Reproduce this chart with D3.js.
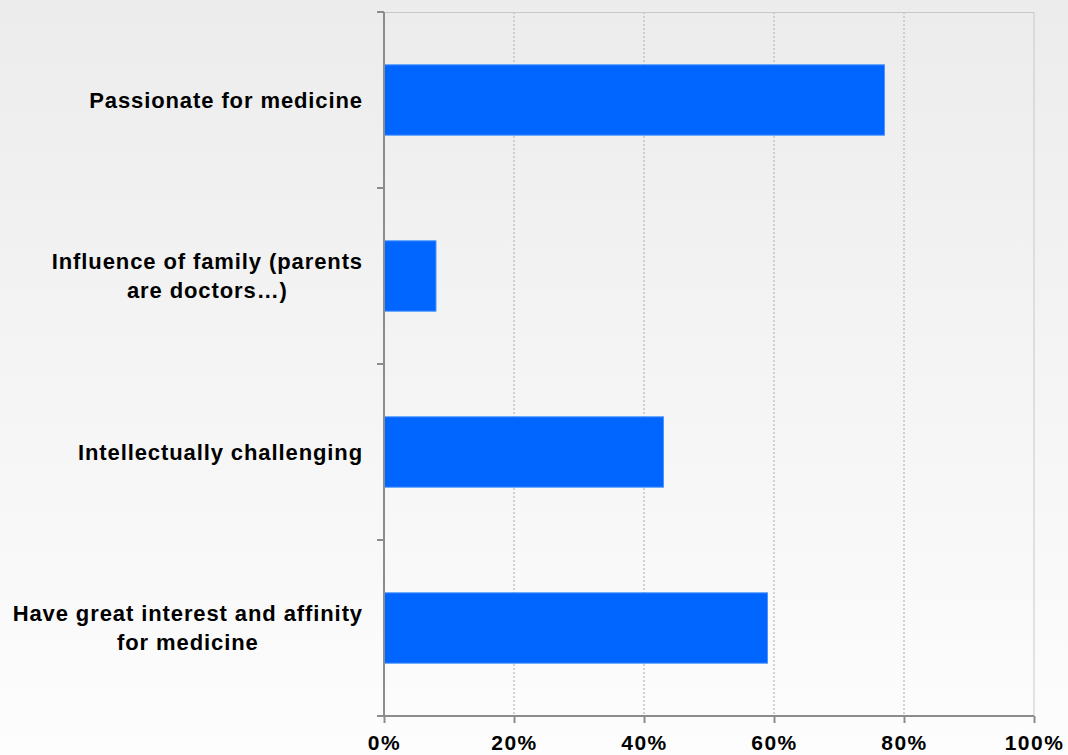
<!DOCTYPE html>
<html>
<head>
<meta charset="utf-8">
<script src="https://cdn.jsdelivr.net/npm/d3@7"></script>
<style>
  body { margin: 0; overflow: hidden; }
  svg { display: block; }
  svg text { font-family: "Liberation Sans", Arial, sans-serif; font-weight: bold; fill: #000; }
</style>
</head>
<body>
<div id="chart"></div>
<script>
// data
var categories = [
  ["Passionate for medicine"],
  ["Influence of family (parents", "are doctors\u2026)"],
  ["Intellectually challenging"],
  ["Have great interest and affinity", "for medicine"]
];
var values = [77, 8, 43, 59];
var ticks = [0, 20, 40, 60, 80, 100];

var width = 1068, height = 755;
var m = { top: 12, right: 34, bottom: 39, left: 384 };
var w = width - m.left - m.right,
    h = height - m.top - m.bottom;

var svg = d3.select("#chart").append("svg").attr("width", width).attr("height", height);

// background gradient
var grad = svg.append("defs").append("linearGradient")
    .attr("id", "bg").attr("x1", 0).attr("y1", 0).attr("x2", 0).attr("y2", 1);
grad.append("stop").attr("offset", "0%").attr("stop-color", "#ececec");
grad.append("stop").attr("offset", "100%").attr("stop-color", "#fdfdfd");
svg.append("rect").attr("width", width).attr("height", height).attr("fill", "url(#bg)");

var g = svg.append("g").attr("transform", "translate(" + m.left + "," + m.top + ")");

var x = d3.scaleLinear().domain([0, 100]).range([0, w]);
var y = d3.scaleBand().domain(d3.range(categories.length)).range([0, h]).paddingInner(0.6).paddingOuter(0.3);

// dotted gridlines
g.selectAll(".grid").data(ticks.slice(1, -1)).enter()
    .append("line")
    .attr("x1", function(d) { return x(d); }).attr("x2", function(d) { return x(d); })
    .attr("y1", 0).attr("y2", h)
    .attr("stroke", "#b8b8b8").attr("stroke-width", 1.2).attr("stroke-dasharray", "2,2");

// plot frame (top / right)
g.append("line").attr("x1", 0).attr("x2", w).attr("y1", 0.5).attr("y2", 0.5)
    .attr("stroke", "#c8c8c8").attr("stroke-width", 1);
g.append("line").attr("x1", w).attr("x2", w).attr("y1", 0).attr("y2", h)
    .attr("stroke", "#c8c8c8").attr("stroke-width", 1);

// bars
g.selectAll(".bar").data(values).enter()
    .append("rect")
    .attr("class", "bar")
    .attr("x", 0)
    .attr("y", function(d, i) { return y(i); })
    .attr("width", function(d) { return x(d); })
    .attr("height", y.bandwidth())
    .attr("fill", "#0066ff")
    .attr("stroke", "#4d94ff").attr("stroke-width", 1);

// axes
var xAxis = g.append("g").attr("transform", "translate(0," + h + ")")
    .call(d3.axisBottom(x).tickValues(ticks).tickSize(7).tickPadding(12).tickFormat(function(d) { return d + "%"; }));
xAxis.select(".domain").attr("stroke", "#8c8c8c").attr("stroke-width", 2)
    .attr("d", "M-7,0H" + w);
xAxis.selectAll(".tick line").attr("stroke", "#8c8c8c").attr("stroke-width", 2);
xAxis.selectAll("text").style("font-size", "21px").style("letter-spacing", "1.5px").attr("fill", "#000");

var step = h / categories.length;
var yTicks = d3.range(categories.length + 1).map(function(i) { return i * step; });
g.append("line").attr("x1", 0).attr("x2", 0).attr("y1", 0).attr("y2", h)
    .attr("stroke", "#8c8c8c").attr("stroke-width", 2);
g.selectAll(".ytick").data(yTicks).enter()
    .append("line")
    .attr("x1", -7).attr("x2", 0)
    .attr("y1", function(d) { return d; }).attr("y2", function(d) { return d; })
    .attr("stroke", "#8c8c8c").attr("stroke-width", 2);

// category labels: block right-aligned, lines centred within it
var lineH = 29, rightEdge = -21;
categories.forEach(function(lines, i) {
  var cy = y(i) + y.bandwidth() / 2;
  var t = g.append("text").style("font-size", "22px").style("letter-spacing", "0.9px")
      .attr("text-anchor", "middle");
  var spans = lines.map(function(s, j) {
    return t.append("tspan").text(s)
      .attr("y", cy + (j - (lines.length - 1) / 2) * lineH)
      .attr("dy", "0.35em");
  });
  var maxW = d3.max(spans, function(sp) { return sp.node().getComputedTextLength(); });
  spans.forEach(function(sp) { sp.attr("x", rightEdge - maxW / 2); });
});
</script>
</body>
</html>
